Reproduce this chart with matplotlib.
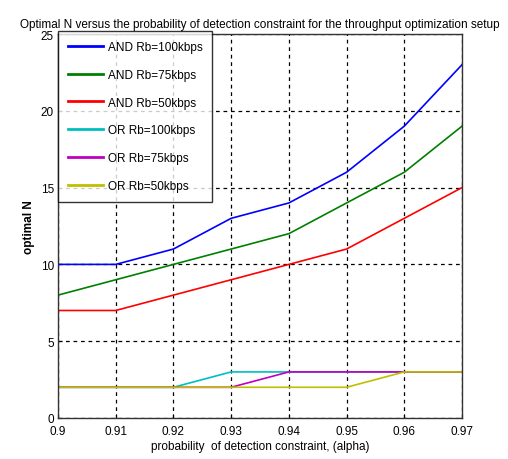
import matplotlib
matplotlib.use("Agg")
import matplotlib.pyplot as plt

plt.rcParams['font.family'] = ['Liberation Sans', 'DejaVu Sans']

alpha = [0.90, 0.91, 0.92, 0.93, 0.94, 0.95, 0.96, 0.97]
and_100 = [10, 10, 11, 13, 14, 16, 19, 23]
and_75 = [8, 9, 10, 11, 12, 14, 16, 19]
and_50 = [7, 7, 8, 9, 10, 11, 13, 15]
or_100 = [2, 2, 2, 3, 3, 3, 3, 3]
or_75 = [2, 2, 2, 2, 3, 3, 3, 3]
or_50 = [2, 2, 2, 2, 2, 2, 3, 3]

labels = ['AND Rb=100kbps', 'AND Rb=75kbps', 'AND Rb=50kbps',
          'OR Rb=100kbps', 'OR Rb=75kbps', 'OR Rb=50kbps']
colors = ['#0000ff', '#008000', '#ff0000', '#00bfbf', '#bf00bf', '#bfbf00']
series = [and_100, and_75, and_50, or_100, or_75, or_50]

fig = plt.figure(figsize=(5.08, 4.6), dpi=100)
ax = fig.add_axes([58/508, 1-419/460, (462-58)/508, (419-35)/460])

for y, c, l in zip(series, colors, labels):
    ax.plot(alpha, y, color=c, lw=1.2, label=l)

ax.set_xlim(0.9, 0.97)
ax.set_ylim(0, 25)
ax.set_xticks(alpha)
ax.set_xticklabels(['0.9', '0.91', '0.92', '0.93', '0.94', '0.95', '0.96', '0.97'])
ax.set_yticks([0, 5, 10, 15, 20, 25])
ax.tick_params(direction='in', labelsize=8.5, length=3, pad=3)
ax.tick_params(axis='x', pad=5)
ax.grid(True, color='black', linestyle=(0, (3, 3)), lw=0.9)
for s in ax.spines.values():
    s.set_linewidth(1.0)
    s.set_color('#333333')

ax.set_title('Optimal N versus the probability of detection constraint for the throughput optimization setup',
             fontsize=8.5, pad=5)
ax.set_xlabel('probability  of detection constraint, (alpha)', fontsize=8.5, labelpad=2)
ax.set_ylabel('optimal N', fontsize=8.5, fontweight='bold')

leg = ax.legend(loc='upper left', bbox_to_anchor=(0.0, 1.008), fontsize=8.5,
                frameon=True, fancybox=False, edgecolor='black',
                labelspacing=1.34, handlelength=3.0, handletextpad=0.35,
                borderpad=0.85, borderaxespad=0.0)
leg.get_frame().set_linewidth(1.0)
for line in leg.get_lines():
    line.set_linewidth(2.0)

fig.savefig('out.png', dpi=100)
